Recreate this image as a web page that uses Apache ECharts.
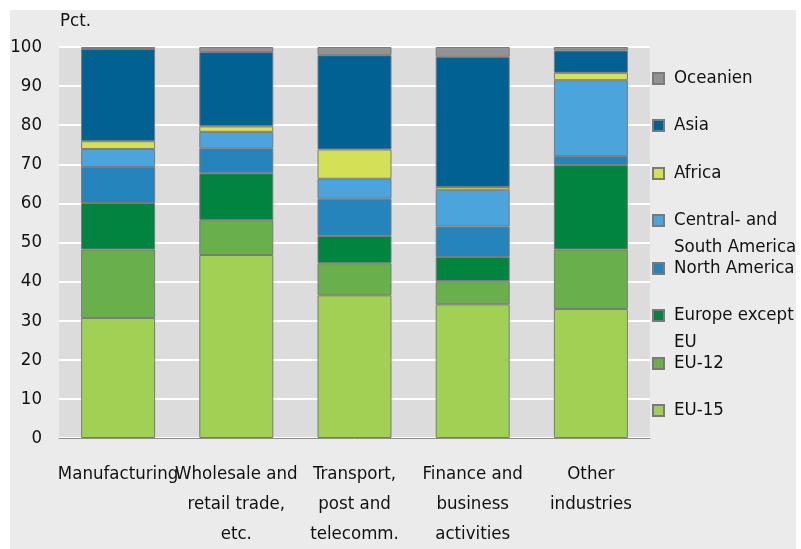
<!DOCTYPE html>
<html>
<head>
<meta charset="utf-8">
<style>
  html, body { margin: 0; padding: 0; background: #ffffff; }
  #panel { position: absolute; left: 10px; top: 10px; width: 786px; height: 539px; background: #ebebeb; }
  #chart { position: absolute; left: 0; top: 0; width: 801px; height: 549px; }
</style>
<script src="https://cdn.jsdelivr.net/npm/echarts@6/dist/echarts.min.js"></script>
</head>
<body>
<div id="panel"></div>
<div id="chart"></div>
<script>
// Industry groups on the category axis
const categories = [
  'Manufacturing',
  'Wholesale and\nretail trade,\netc.',
  'Transport,\npost and\ntelecomm.',
  'Finance and\nbusiness\nactivities',
  'Other\nindustries'
];

// Share (pct.) by region, one array per stacked segment, bottom to top
const eu15            = [30.7, 46.8, 36.5, 34.2, 33.0];
const eu12            = [17.5,  8.9,  8.2,  5.9, 15.2];
const europeExceptEU  = [11.9, 12.0,  7.0,  6.2, 21.6];
const northAmerica    = [ 9.2,  6.4,  9.5,  7.8,  2.3];
const centralSouthAm  = [ 4.6,  4.2,  5.1,  9.4, 19.4];
const africa          = [ 2.0,  1.4,  7.5,  0.7,  1.9];
const asia            = [23.6, 19.0, 24.1, 33.3,  5.7];
const oceanien        = [ 0.5,  1.3,  2.1,  2.5,  0.9];

// Value axis ticks
const yTicks = [0, 10, 20, 30, 40, 50, 60, 70, 80, 90, 100];

const FONT = "'DejaVu Sans Condensed', 'Open Sans', sans-serif";
const FONT_SIZE = 18.5;

const seriesDefs = [
  { name: 'EU-15', data: eu15, color: '#a0d155' },
  { name: 'EU-12', data: eu12, color: '#69b04d' },
  { name: 'Europe except\nEU', data: europeExceptEU, color: '#00843f' },
  { name: 'North America', data: northAmerica, color: '#2584bb' },
  { name: 'Central- and\nSouth America', data: centralSouthAm, color: '#4aa5dc' },
  { name: 'Africa', data: africa, color: '#d4e157' },
  { name: 'Asia', data: asia, color: '#006192' },
  { name: 'Oceanien', data: oceanien, color: '#939393' }
];

const series = seriesDefs.map(s => ({
  name: s.name,
  type: 'bar',
  stack: 'total',
  barWidth: 74,
  data: s.data,
  itemStyle: { color: s.color, borderColor: '#7a7a7a', borderWidth: 1 }
}));

// One legend block per entry, listed top to bottom (Oceanien first).
// Two-line names get a blank leading line so the first line sits beside the swatch.
const LINE_H = 27;
const legendOrder = seriesDefs.slice().reverse();
const legends = legendOrder.map((s, i) => {
  const twoLines = s.name.indexOf('\n') >= 0;
  const iconCenter = 78 + 47.5 * i;
  return {
    data: [s.name],
    orient: 'vertical',
    left: 652,
    top: Math.round(iconCenter - (twoLines ? LINE_H * 1.5 : LINE_H / 2)),
    padding: 0,
    itemWidth: 11,
    itemHeight: 11,
    icon: 'rect',
    selectedMode: false,
    formatter: name => (twoLines ? ' \n' + name : name),
    textStyle: {
      fontFamily: FONT,
      fontSize: FONT_SIZE,
      color: '#111111',
      lineHeight: LINE_H,
      padding: [0, 0, 0, 5]
    }
  };
});

const chart = echarts.init(document.getElementById('chart'), null, { renderer: 'canvas' });
chart.setOption({
  animation: false,
  backgroundColor: 'transparent',
  textStyle: { fontFamily: FONT },
  grid: {
    left: 59, right: 151, top: 47, bottom: 107,
    show: true, backgroundColor: '#dcdcdc', borderWidth: 0,
    containLabel: false
  },
  legend: legends,
  xAxis: {
    type: 'category',
    data: categories,
    axisTick: { show: false },
    axisLine: { show: true, lineStyle: { color: '#8c8c8c', width: 1 } },
    axisLabel: {
      interval: 0,
      margin: 21,
      fontFamily: FONT,
      fontSize: FONT_SIZE,
      lineHeight: 30,
      color: '#111111'
    }
  },
  yAxis: {
    type: 'value',
    min: yTicks[0],
    max: yTicks[yTicks.length - 1],
    interval: yTicks[1] - yTicks[0],
    name: 'Pct.',
    nameLocation: 'end',
    nameGap: 16,
    nameTextStyle: { fontFamily: FONT, fontSize: FONT_SIZE, color: '#111111', align: 'left', padding: [0, 0, 0, 1] },
    axisLine: { show: false },
    axisTick: { show: false },
    splitLine: { show: true, lineStyle: { color: '#ffffff', width: 2 } },
    axisLabel: { margin: 17, fontFamily: FONT, fontSize: FONT_SIZE, color: '#111111' }
  },
  series: series
});
</script>
</body>
</html>
